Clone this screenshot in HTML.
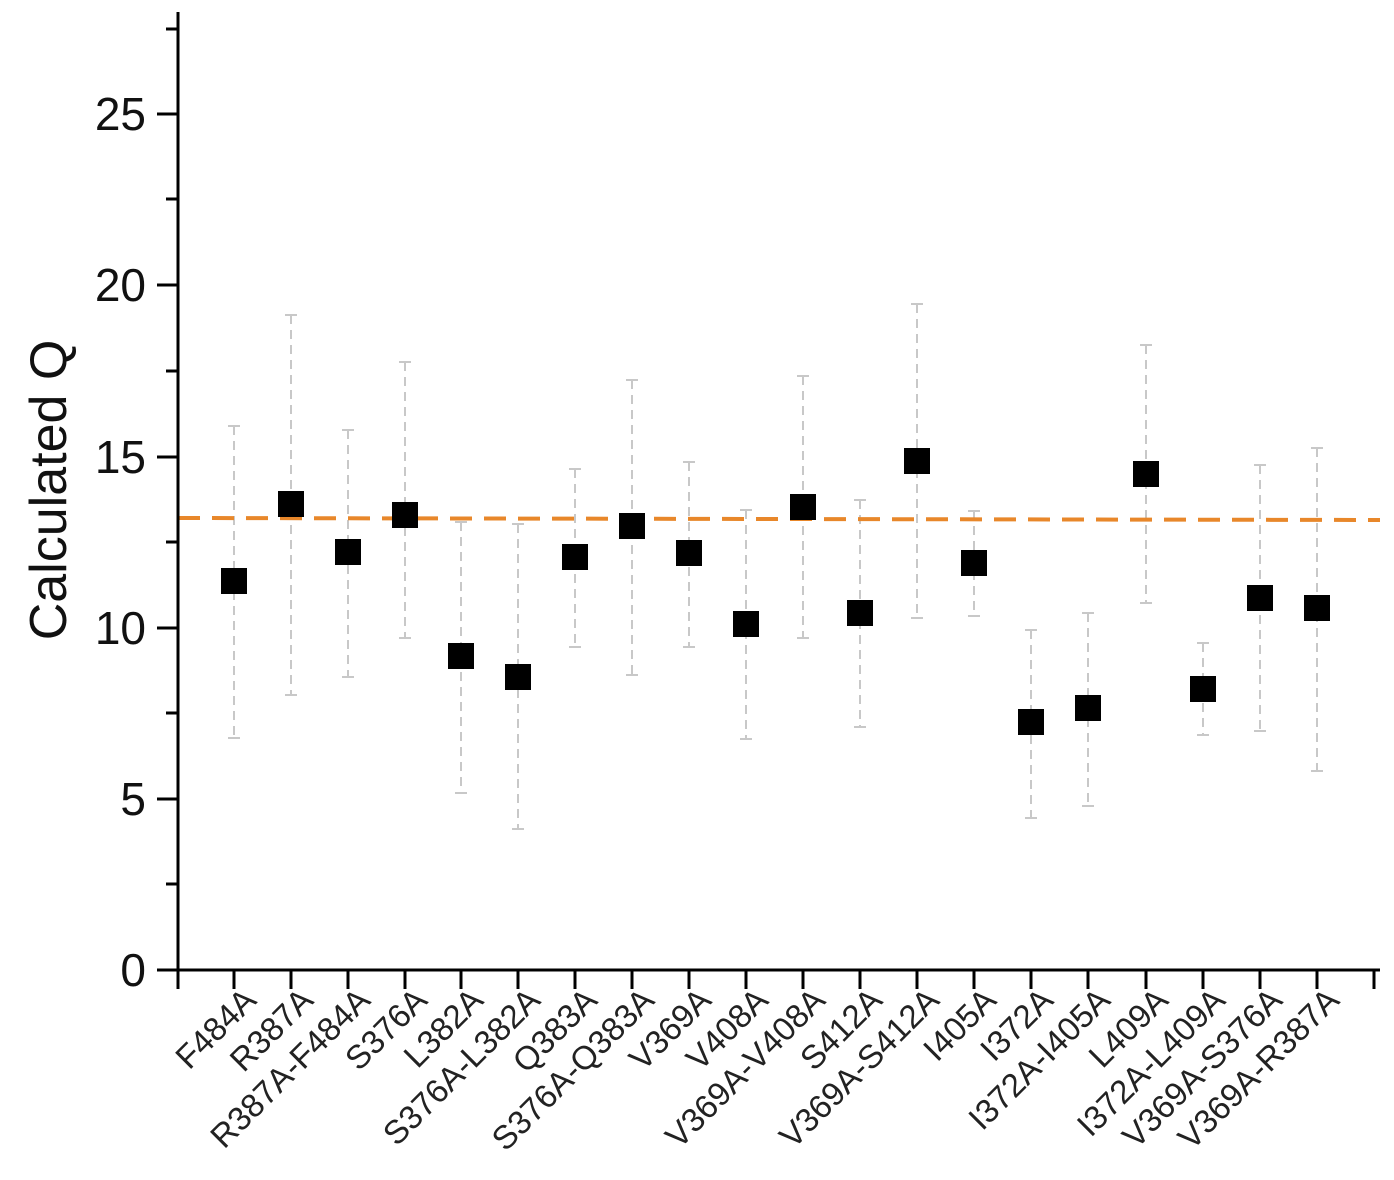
<!DOCTYPE html>
<html><head><meta charset="utf-8"><style>html,body{margin:0;padding:0;background:#fff}svg{display:block}</style></head>
<body>
<svg width="1394" height="1180" viewBox="0 0 1394 1180" xmlns="http://www.w3.org/2000/svg" font-family="Liberation Sans, Arial, sans-serif">
<g stroke="#c8c8c8" stroke-width="2" stroke-dasharray="9,6" fill="none">
<line x1="234" y1="426" x2="234" y2="738"/><line x1="291" y1="315" x2="291" y2="695"/>
<line x1="348" y1="430" x2="348" y2="677"/><line x1="405" y1="362" x2="405" y2="638"/>
<line x1="461" y1="522" x2="461" y2="793"/><line x1="518" y1="524" x2="518" y2="829"/>
<line x1="575" y1="469" x2="575" y2="647"/><line x1="632" y1="380" x2="632" y2="675"/>
<line x1="689" y1="462" x2="689" y2="647"/><line x1="746" y1="510" x2="746" y2="739"/>
<line x1="803" y1="376" x2="803" y2="638"/><line x1="860" y1="500" x2="860" y2="727"/>
<line x1="917" y1="304" x2="917" y2="618"/><line x1="974" y1="511" x2="974" y2="616"/>
<line x1="1031" y1="630" x2="1031" y2="818"/><line x1="1088" y1="613" x2="1088" y2="806"/>
<line x1="1146" y1="345" x2="1146" y2="603"/><line x1="1203" y1="643" x2="1203" y2="735"/>
<line x1="1260" y1="465" x2="1260" y2="731"/><line x1="1317" y1="448" x2="1317" y2="771"/>
</g>
<g stroke="#c8c8c8" stroke-width="2">
<path d="M228 426h12M228 738h12M285 315h12M285 695h12M342 430h12M342 677h12M399 362h12M399 638h12M455 522h12M455 793h12M512 524h12M512 829h12M569 469h12M569 647h12M626 380h12M626 675h12M683 462h12M683 647h12M740 510h12M740 739h12M797 376h12M797 638h12M854 500h12M854 727h12M911 304h12M911 618h12M968 511h12M968 616h12M1025 630h12M1025 818h12M1082 613h12M1082 806h12M1140 345h12M1140 603h12M1197 643h12M1197 735h12M1254 465h12M1254 731h12M1311 448h12M1311 771h12"/>
</g>
<line x1="178" y1="518" x2="1380" y2="520" stroke="#e8872a" stroke-width="4" stroke-dasharray="22,12"/>
<g fill="#000">
<rect x="221" y="568" width="26" height="26"/><rect x="278" y="491" width="26" height="26"/>
<rect x="335" y="539" width="26" height="26"/><rect x="392" y="502" width="26" height="26"/>
<rect x="448" y="643" width="26" height="26"/><rect x="505" y="664" width="26" height="26"/>
<rect x="562" y="544" width="26" height="26"/><rect x="619" y="513" width="26" height="26"/>
<rect x="676" y="540" width="26" height="26"/><rect x="733" y="611" width="26" height="26"/>
<rect x="790" y="494" width="26" height="26"/><rect x="847" y="600" width="26" height="26"/>
<rect x="904" y="448" width="26" height="26"/><rect x="961" y="550" width="26" height="26"/>
<rect x="1018" y="709" width="26" height="26"/><rect x="1075" y="695" width="26" height="26"/>
<rect x="1133" y="461" width="26" height="26"/><rect x="1190" y="676" width="26" height="26"/>
<rect x="1247" y="585" width="26" height="26"/><rect x="1304" y="595" width="26" height="26"/>
</g>
<g stroke="#000" stroke-width="3" fill="none">
<path d="M178 12V970H1380"/>
<path d="M157 970h21M157 799h21M157 628h21M157 457h21M157 285h21M157 114h21M166 884h12M166 713h12M166 542h12M166 371h12M166 199h12M166 29h12"/>
<path d="M178 970v19M234 970v19M291 970v19M348 970v19M405 970v19M461 970v19M518 970v19M575 970v19M632 970v19M689 970v19M746 970v19M803 970v19M860 970v19M917 970v19M974 970v19M1031 970v19M1088 970v19M1146 970v19M1203 970v19M1260 970v19M1317 970v19M1374 970v19"/>
</g>
<g font-size="46" text-anchor="end" fill="#111">
<text x="146" y="986">0</text><text x="146" y="815">5</text><text x="146" y="644">10</text>
<text x="146" y="473">15</text><text x="146" y="301">20</text><text x="146" y="130">25</text>
</g>
<text transform="translate(66,490) rotate(-90)" font-size="52" text-anchor="middle" fill="#111">Calculated Q</text>
<g font-size="33" text-anchor="end" fill="#222">
<text transform="translate(258,1002) rotate(-45)">F484A</text>
<text transform="translate(315,1002) rotate(-45)">R387A</text>
<text transform="translate(372,1002) rotate(-45)">R387A-F484A</text>
<text transform="translate(429,1002) rotate(-45)">S376A</text>
<text transform="translate(485,1002) rotate(-45)">L382A</text>
<text transform="translate(542,1002) rotate(-45)">S376A-L382A</text>
<text transform="translate(599,1002) rotate(-45)">Q383A</text>
<text transform="translate(656,1002) rotate(-45)">S376A-Q383A</text>
<text transform="translate(713,1002) rotate(-45)">V369A</text>
<text transform="translate(770,1002) rotate(-45)">V408A</text>
<text transform="translate(827,1002) rotate(-45)">V369A-V408A</text>
<text transform="translate(884,1002) rotate(-45)">S412A</text>
<text transform="translate(941,1002) rotate(-45)">V369A-S412A</text>
<text transform="translate(998,1002) rotate(-45)">I405A</text>
<text transform="translate(1055,1002) rotate(-45)">I372A</text>
<text transform="translate(1112,1002) rotate(-45)">I372A-I405A</text>
<text transform="translate(1170,1002) rotate(-45)">L409A</text>
<text transform="translate(1227,1002) rotate(-45)">I372A-L409A</text>
<text transform="translate(1284,1002) rotate(-45)">V369A-S376A</text>
<text transform="translate(1341,1002) rotate(-45)">V369A-R387A</text>
</g>
</svg>
</body></html>
